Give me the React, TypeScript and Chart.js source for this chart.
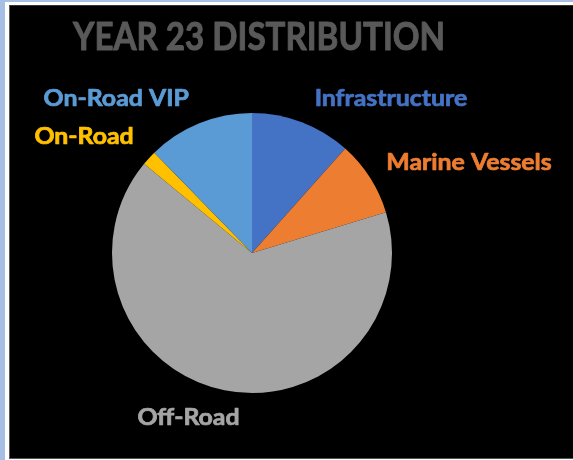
import React, { useEffect, useRef } from "react";
import { Chart, registerables } from "chart.js";

Chart.register(...registerables);

const categories = ["Infrastructure", "Marine Vessels", "Off-Road", "On-Road", "On-Road VIP"];
const values = [11.6, 8.7, 65.7, 1.7, 12.3];
const colors = ["#4472C4", "#ED7D31", "#A5A5A5", "#FFC000", "#5B9BD5"];
const titleText = "YEAR 23 DISTRIBUTION";
// label offsets (px) from each slice's outer-edge midpoint
const labelOffsets = [
  [89, -23],
  [99, -15],
  [-36, 28],
  [-65, -21],
  [-83, -24],
];

const FONT = "Lato, 'Open Sans', sans-serif";

function stretchedText(ctx: CanvasRenderingContext2D, text: string, x: number, y: number, sx: number, stroke: number) {
  ctx.save();
  ctx.translate(x, y);
  ctx.scale(sx, 1);
  ctx.fillText(text, 0, 0);
  ctx.strokeStyle = ctx.fillStyle as string;
  ctx.lineWidth = stroke;
  ctx.lineJoin = "round";
  ctx.strokeText(text, 0, 0);
  ctx.restore();
}

const labelPlugin = {
  id: "outerLabels",
  afterDraw(chart: any) {
    const ctx = chart.ctx;
    const meta = chart.getDatasetMeta(0);
    ctx.save();
    // title
    ctx.font = `bold 39px ${FONT}`;
    ctx.fillStyle = "#595959";
    ctx.textAlign = "center";
    ctx.textBaseline = "alphabetic";
    stretchedText(ctx, titleText, 249, 44, 0.85, 1);
    ctx.font = `bold 22px ${FONT}`;
    ctx.textBaseline = "middle";
    meta.data.forEach((arc: any, i: number) => {
      const p = arc.getProps(["x", "y", "startAngle", "endAngle", "outerRadius"], true);
      const mid = (p.startAngle + p.endAngle) / 2;
      const ex = p.x + Math.cos(mid) * p.outerRadius;
      const ey = p.y + Math.sin(mid) * p.outerRadius;
      ctx.fillStyle = colors[i];
      stretchedText(ctx, categories[i], ex + labelOffsets[i][0], ey + labelOffsets[i][1], 1.13, 0.7);
    });
    ctx.restore();
  },
};

export default function App() {
  const ref = useRef<HTMLCanvasElement>(null);
  useEffect(() => {
    const chart = new Chart(ref.current!, {
      type: "pie",
      data: {
        labels: categories,
        datasets: [
          {
            data: values,
            backgroundColor: colors,
            borderWidth: 0,
          },
        ],
      },
      options: {
        animation: false,
        responsive: false,
        events: [],
        layout: { padding: { left: 102, top: 107, right: 181, bottom: 65 } },
        plugins: {
          legend: { display: false },
          tooltip: { enabled: false },
          title: { display: false },
        },
      },
      plugins: [labelPlugin],
    });
    return () => chart.destroy();
  }, []);

  return (
    <div style={{ position: "absolute", left: 0, top: 0, width: 573, height: 460, background: "#ffffff", overflow: "hidden" }}>
      <div style={{ position: "absolute", left: 0, top: 0, width: 5, height: 460, background: "#A8BFE5" }} />
      <div style={{ position: "absolute", left: 0, top: 0, width: 573, height: 2, background: "#A8BFE5" }} />
      <div
        style={{
          position: "absolute",
          left: 9,
          top: 5,
          width: 564,
          height: 454,
          boxSizing: "border-box",
          background: "#000",
          borderLeft: "1px solid #555",
          borderTop: "1px solid #333",
          borderBottom: "1px solid #555",
        }}
      >
        <canvas ref={ref} width={563} height={452} style={{ display: "block" }} />
      </div>
    </div>
  );
}
